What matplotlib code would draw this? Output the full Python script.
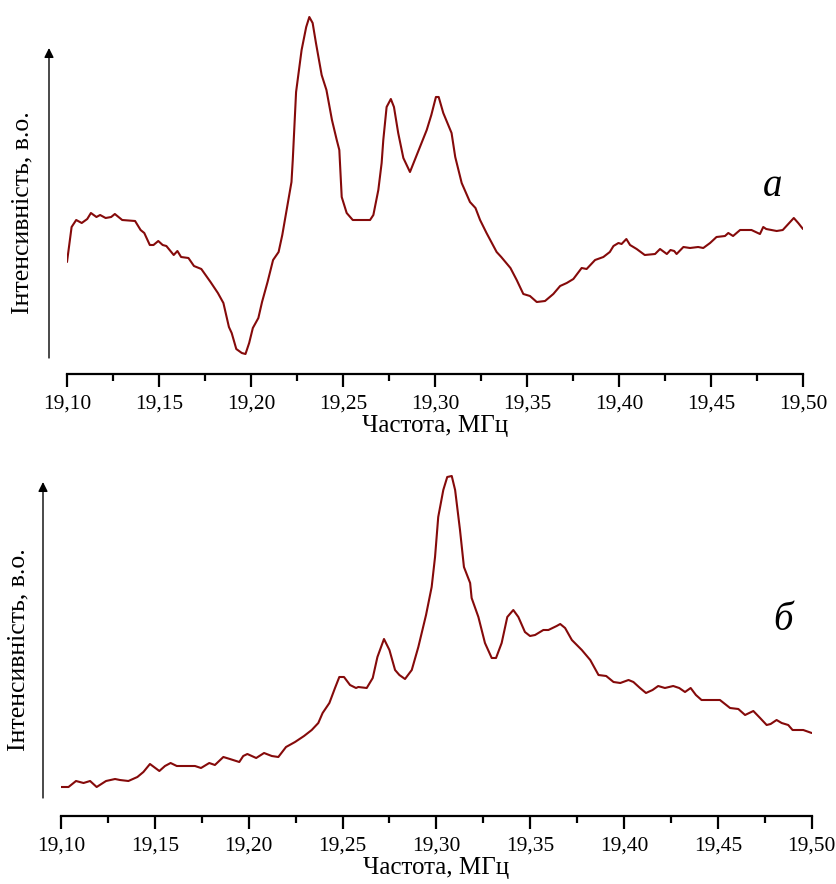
import numpy as np
import matplotlib.pyplot as plt
from matplotlib.ticker import MultipleLocator, FuncFormatter

plt.rcParams['font.family'] = ['Liberation Serif', 'DejaVu Serif']

# --- спектр (а): частота, МГц / інтенсивність, в.о.
freq_a = [19.100, 19.1025, 19.105, 19.108, 19.111, 19.113, 19.116, 19.118, 19.121, 19.124,
          19.126, 19.130, 19.137, 19.140, 19.142, 19.145, 19.147, 19.1496, 19.152, 19.154,
          19.158, 19.160, 19.162, 19.166, 19.169, 19.173, 19.178, 19.182, 19.185, 19.188,
          19.1895, 19.192, 19.195, 19.197, 19.199, 19.201, 19.204, 19.206, 19.209, 19.212,
          19.215, 19.217, 19.221, 19.222, 19.2227, 19.2245, 19.2275, 19.230, 19.2317, 19.2335,
          19.2353, 19.2384, 19.241, 19.244, 19.2466, 19.248, 19.2493, 19.252, 19.2553, 19.2647,
          19.2665, 19.2692, 19.271, 19.2719, 19.2737, 19.276, 19.2777, 19.280, 19.2828, 19.2864,
          19.2918, 19.2955, 19.298, 19.3005, 19.302, 19.3045, 19.309, 19.311, 19.3145, 19.319,
          19.322, 19.3245, 19.328, 19.3335, 19.336, 19.341, 19.3444, 19.348, 19.3516, 19.3553,
          19.3598, 19.3643, 19.368, 19.3716, 19.3752, 19.3797, 19.3824, 19.387, 19.3915, 19.395,
          19.397, 19.3997, 19.4014, 19.404, 19.406, 19.4096, 19.414, 19.4196, 19.4223, 19.426,
          19.428, 19.430, 19.4313, 19.435, 19.4386, 19.443, 19.4458, 19.4495, 19.453, 19.4576,
          19.4594, 19.462, 19.4658, 19.472, 19.4766, 19.4784, 19.480, 19.4857, 19.489, 19.493,
          19.495, 19.4974, 19.500]
int_a = [112, 147, 154, 151, 155, 161, 157, 159, 156, 157,
         160, 154, 153, 144, 141, 129, 129, 133, 129, 128,
         119, 123, 117, 116, 108, 105, 92, 81, 71, 47,
         41, 25, 21, 20, 31, 46, 56, 72, 92, 114,
         122, 139, 181, 192, 214, 282, 324, 347, 357, 351,
         331, 299, 284, 254, 234, 224, 177, 161, 154, 154,
         159, 184, 211, 234, 267, 275, 267, 241, 216, 202,
         227, 244, 259, 277, 277, 261, 241, 217, 191, 172,
         166, 154, 141, 122, 117, 106, 94, 80, 78, 72,
         73, 80, 88, 91, 95, 106, 105, 114, 117, 122,
         128, 131, 130, 135, 129, 125, 119, 120, 125, 120,
         124, 123, 120, 127, 126, 127, 126, 131, 137, 138,
         141, 138, 144, 144, 140, 147, 145, 143, 144, 152,
         156, 151, 145]

# --- спектр (б)
freq_b = [19.100, 19.104, 19.108, 19.112, 19.1155, 19.119, 19.124, 19.1288, 19.1314, 19.1359,
          19.1407, 19.1439, 19.1474, 19.1524, 19.1554, 19.1584, 19.1617, 19.1714, 19.1746, 19.179,
          19.182, 19.1865, 19.190, 19.195, 19.1971, 19.1993, 19.204, 19.2082, 19.2123, 19.2158,
          19.2199, 19.2247, 19.2295, 19.2336, 19.2371, 19.2394, 19.243, 19.246, 19.2483, 19.2508,
          19.254, 19.2572, 19.2584, 19.2629, 19.2661, 19.2686, 19.2721, 19.275, 19.278, 19.2803,
          19.2833, 19.2869, 19.2904, 19.2945, 19.2975, 19.2993, 19.301, 19.3037, 19.3058, 19.3082,
          19.310, 19.3126, 19.3147, 19.318, 19.3188, 19.3224, 19.3259, 19.3295, 19.3318, 19.3348,
          19.3378, 19.341, 19.3437, 19.3472, 19.3499, 19.3526, 19.357, 19.3597, 19.3641, 19.366,
          19.3686, 19.3722, 19.3775, 19.382, 19.3864, 19.3905, 19.3944, 19.398, 19.4024, 19.405,
          19.4085, 19.4117, 19.4152, 19.4182, 19.4218, 19.4262, 19.4294, 19.4325, 19.4355, 19.4383,
          19.4413, 19.4511, 19.4565, 19.4609, 19.4645, 19.4689, 19.4725, 19.476, 19.4781, 19.4813,
          19.484, 19.4875, 19.4898, 19.4955, 19.500]
int_b = [29, 29, 35, 33, 35, 29, 35, 37, 36, 35,
         39, 44, 52, 45, 50, 53, 50, 50, 48, 53,
         51, 59, 57, 54, 60, 62, 58, 63, 60, 59,
         69, 74, 80, 86, 93, 103, 113, 128, 139, 139,
         131, 128, 129, 128, 138, 159, 177, 166, 146, 141,
         137, 146, 169, 201, 229, 259, 299, 326, 339, 340,
         326, 286, 249, 233, 218, 199, 173, 158, 158, 173,
         199, 206, 199, 184, 180, 181, 186, 186, 190, 192,
         188, 176, 166, 156, 141, 140, 134, 133, 136, 134,
         128, 123, 126, 130, 128, 130, 128, 124, 128, 121,
         116, 116, 108, 107, 101, 105, 98, 91, 92, 96,
         93, 91, 86, 86, 83]

ticks_fmt = FuncFormatter(lambda v, p: f"{v:.2f}".replace('.', ','))
line_col = '#850a0a'

fig = plt.figure(figsize=(8.37, 8.84), dpi=100)
W, H = 837, 884


def make_axes(left, right, bottom_px, top_px):
    return fig.add_axes([left / W, (H - bottom_px) / H, (right - left) / W, (bottom_px - top_px) / H])


ax_a = make_axes(67, 803, 374, 10)
ax_b = make_axes(61, 811.7, 816, 470)

for ax, f, v, ymax in [(ax_a, freq_a, int_a, 364), (ax_b, freq_b, int_b, 346)]:
    ax.plot(f, v, color=line_col, lw=1.5, solid_joinstyle='round', solid_capstyle='round')
    ax.set_xlim(19.10, 19.50)
    ax.set_ylim(0, ymax)
    for s in ['left', 'right', 'top']:
        ax.spines[s].set_visible(False)
    ax.spines['bottom'].set_linewidth(1.6)
    ax.set_yticks([])
    ax.xaxis.set_major_locator(MultipleLocator(0.05))
    ax.xaxis.set_minor_locator(MultipleLocator(0.025))
    ax.xaxis.set_major_formatter(ticks_fmt)
    ax.tick_params(axis='x', which='major', length=9, width=1.6, labelsize=15.5, pad=6)
    ax.tick_params(axis='x', which='minor', length=5, width=1.6)
    ax.set_xlabel("Частота, МГц", fontsize=18, labelpad=1)

# стрілки осі інтенсивності
for x, y0, y1 in [(49, 358, 48), (43, 798, 482)]:
    fig.add_artist(plt.Annotation("", xy=(x, H - y1), xytext=(x, H - y0),
                                  xycoords='figure pixels', textcoords='figure pixels',
                                  arrowprops=dict(arrowstyle='-|>', color='black', lw=1,
                                                  mutation_scale=14, shrinkA=0, shrinkB=0)))

fig.text(22 / W, (H - 213) / H, "Інтенсивність, в.о.", rotation=90, fontsize=18.5,
         ha='center', va='center')
fig.text(18 / W, (H - 650) / H, "Інтенсивність, в.о.", rotation=90, fontsize=18.5,
         ha='center', va='center')

fig.text(773 / W, (H - 187) / H, "а", fontsize=28, style='italic', ha='center', va='center')
fig.text(783 / W, (H - 620) / H, "б", fontsize=28, style='italic', ha='center', va='center')

fig.savefig("out.png", dpi=100)
